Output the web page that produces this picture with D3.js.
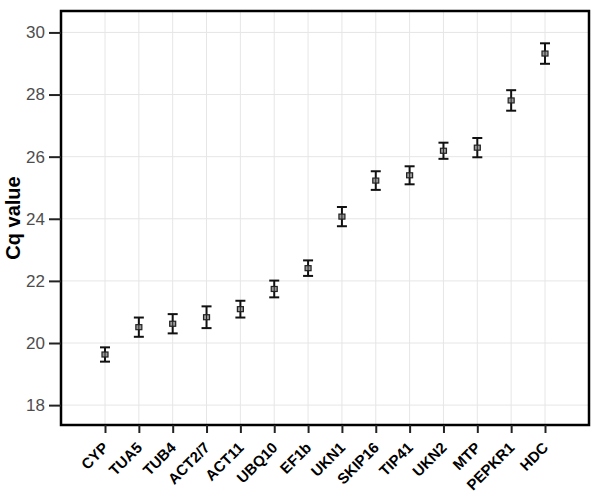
<!DOCTYPE html>
<html><head><meta charset="utf-8">
<script src="https://cdn.jsdelivr.net/npm/d3@7"></script>
<style>body{margin:0;background:#fff}svg{display:block}</style>
</head><body>
<svg id="c" width="600" height="497"></svg>
<script>
const genes = ["CYP","TUA5","TUB4","ACT2/7","ACT11","UBQ10","EF1b","UKN1","SKIP16","TIP41","UKN2","MTP","PEPKR1","HDC"];
const cqMean = [19.63,20.51,20.62,20.83,21.09,21.74,22.41,24.07,25.23,25.40,26.19,26.29,27.81,29.32];
const cqErr  = [0.23,0.31,0.31,0.35,0.27,0.27,0.25,0.31,0.30,0.29,0.26,0.31,0.33,0.33];
const yTicks = [18,20,22,24,26,28,30];

const svg = d3.select("#c");
const L=61, R=589, T=11, B=425;
const x = d3.scalePoint().domain(genes).range([L,R]).padding(1.3);
const y = d3.scaleLinear().domain([17.36,30.69]).range([B,T]);

// grid
svg.append("g").selectAll("line.h").data(yTicks).join("line")
  .attr("x1",L).attr("x2",R).attr("y1",d=>y(d)).attr("y2",d=>y(d))
  .attr("stroke","#e6e6e6").attr("stroke-width",1);
svg.append("g").selectAll("line.v").data(genes).join("line")
  .attr("x1",d=>x(d)).attr("x2",d=>x(d)).attr("y1",T).attr("y2",B)
  .attr("stroke","#e6e6e6").attr("stroke-width",1);

// frame
svg.append("rect").attr("x",L).attr("y",T).attr("width",R-L).attr("height",B-T)
  .attr("fill","none").attr("stroke","#000").attr("stroke-width",2.5);

// y axis
const ya = svg.append("g").attr("transform",`translate(${L},0)`)
  .call(d3.axisLeft(y).tickValues(yTicks).tickSize(12).tickPadding(4));
ya.select(".domain").remove();
ya.selectAll(".tick line").attr("stroke","#222").attr("stroke-width",2);
ya.selectAll(".tick text").attr("font-family","Liberation Sans, Arial, sans-serif")
  .attr("font-size",17).attr("fill","#4d4d4d");

// x axis
const xa = svg.append("g").attr("transform",`translate(0,${B})`)
  .call(d3.axisBottom(x).tickSize(8).tickPadding(4));
xa.select(".domain").remove();
xa.selectAll(".tick line").attr("stroke","#222").attr("stroke-width",2);
xa.selectAll(".tick text")
  .attr("font-family","Liberation Sans, Arial, sans-serif").attr("font-weight","bold")
  .attr("font-size",15).attr("fill","#000")
  .attr("text-anchor","end").attr("dy","0.35em").attr("x",0).attr("y",0)
  .attr("transform","translate(0,20) rotate(-45)");

// y title
svg.append("text").attr("transform",`translate(20,${(T+B)/2}) rotate(-90)`)
  .attr("text-anchor","middle").attr("font-family","Liberation Sans, Arial, sans-serif")
  .attr("font-weight","bold").attr("font-size",20).text("Cq value");

// error bars
const g = svg.append("g");
const pts = genes.map((k,i)=>({k,m:cqMean[i],e:cqErr[i]}));
g.selectAll("line.eb").data(pts).join("line")
  .attr("x1",d=>x(d.k)).attr("x2",d=>x(d.k))
  .attr("y1",d=>y(d.m+d.e)).attr("y2",d=>y(d.m-d.e))
  .attr("stroke","#111").attr("stroke-width",2);
["top","bot"].forEach(s=>{
  g.selectAll("line.c"+s).data(pts).join("line")
    .attr("x1",d=>x(d.k)-5).attr("x2",d=>x(d.k)+5)
    .attr("y1",d=>y(s==="top"?d.m+d.e:d.m-d.e)).attr("y2",d=>y(s==="top"?d.m+d.e:d.m-d.e))
    .attr("stroke","#111").attr("stroke-width",2);
});
g.selectAll("rect.m").data(pts).join("rect")
  .attr("x",d=>x(d.k)-3).attr("y",d=>y(d.m)-2.5).attr("width",6).attr("height",5)
  .attr("fill","#999").attr("stroke","#222").attr("stroke-width",1.2);
g.selectAll("line.mid").data(pts).join("line")
  .attr("x1",d=>x(d.k)).attr("x2",d=>x(d.k))
  .attr("y1",d=>y(d.m)-2.5).attr("y2",d=>y(d.m)+2.5)
  .attr("stroke","#222").attr("stroke-width",1);
</script>
</body></html>
